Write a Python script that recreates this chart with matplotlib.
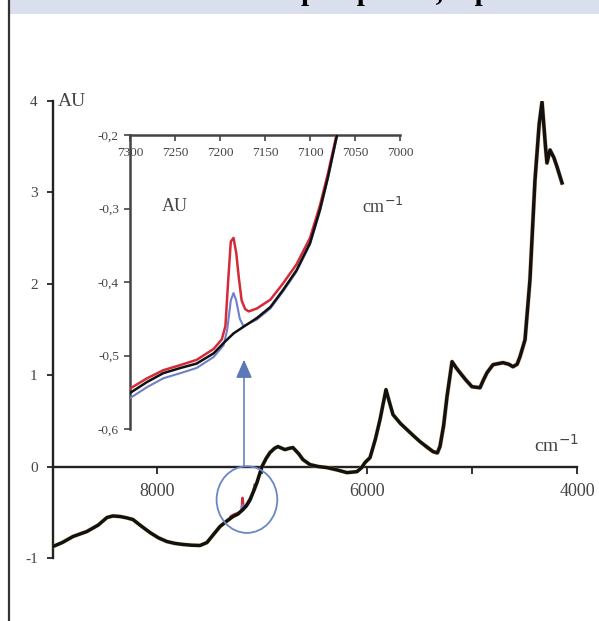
import matplotlib
matplotlib.use('Agg')
import matplotlib.pyplot as plt
from matplotlib.patches import Ellipse, Rectangle
from matplotlib.lines import Line2D

W, H = 599, 621

# ---- main spectrum (wavenumber cm-1, absorbance AU) ----
main_wn = [8990, 8900, 8800, 8667, 8560, 8476, 8420, 8352, 8290, 8229, 8150, 8067,
           7985, 7905, 7830, 7752, 7670, 7590, 7524, 7460, 7400, 7340, 7276, 7230,
           7181, 7150, 7114, 7080, 7048, 7000, 6960, 6924, 6880, 6848, 6781, 6740,
           6705, 6650, 6610, 6543, 6460, 6381, 6290, 6190, 6095, 6050, 6019, 5971,
           5920, 5876, 5819, 5790, 5752, 5680, 5619, 5550, 5495, 5430, 5371, 5330,
           5305, 5270, 5238, 5190, 5150, 5114, 5060, 5000, 4924, 4890, 4857, 4800,
           4705, 4650, 4610, 4570, 4543, 4495, 4448, 4400, 4360, 4333, 4300, 4286,
           4257, 4220, 4190, 4143]
main_au = [-0.874, -0.830, -0.765, -0.710, -0.640, -0.557, -0.540, -0.546, -0.560, -0.579,
           -0.650, -0.721, -0.780, -0.820, -0.840, -0.852, -0.860, -0.863, -0.831, -0.740,
           -0.656, -0.600, -0.546, -0.520, -0.470, -0.430, -0.361, -0.270, -0.175, 0.000,
           0.090, 0.153, 0.200, 0.219, 0.186, 0.200, 0.208, 0.140, 0.077, 0.022,
           0.000, -0.011, -0.035, -0.066, -0.055, -0.010, 0.044, 0.098, 0.300, 0.514,
           0.842, 0.720, 0.568, 0.470, 0.404, 0.330, 0.273, 0.215, 0.164, 0.150,
           0.219, 0.450, 0.765, 1.148, 1.080, 1.027, 0.950, 0.874, 0.863, 0.950,
           1.027, 1.115, 1.137, 1.120, 1.093, 1.120, 1.202, 1.388, 2.044, 3.137,
           3.750, 3.989, 3.500, 3.322, 3.464, 3.380, 3.279, 3.104]

# ---- inset spectra (7300-7000 cm-1) ----
inset_wn_black = [7300, 7281, 7263, 7244, 7226, 7207, 7196, 7185, 7174, 7159, 7144,
                  7130, 7115, 7100, 7089, 7080, 7070]
inset_black = [-0.551, -0.536, -0.524, -0.517, -0.511, -0.497, -0.483, -0.470, -0.461,
               -0.449, -0.434, -0.411, -0.384, -0.347, -0.302, -0.257, -0.200]

inset_wn_red = [7300, 7281, 7263, 7244, 7226, 7207, 7198, 7194, 7191, 7188, 7185, 7182,
                7179, 7176, 7172, 7168, 7159, 7144, 7130, 7115, 7100, 7089, 7080, 7070]
inset_red = [-0.545, -0.531, -0.520, -0.513, -0.506, -0.491, -0.478, -0.460, -0.400,
             -0.345, -0.340, -0.360, -0.395, -0.425, -0.437, -0.440, -0.436, -0.424,
             -0.402, -0.376, -0.340, -0.296, -0.252, -0.197]

inset_wn_blue = [7300, 7281, 7263, 7244, 7226, 7207, 7196, 7192, 7188, 7185, 7182,
                 7178, 7174, 7159, 7144, 7130, 7115, 7100, 7089, 7080, 7070]
inset_blue = [-0.558, -0.543, -0.531, -0.524, -0.517, -0.502, -0.486, -0.465, -0.425,
              -0.415, -0.425, -0.450, -0.460, -0.451, -0.436, -0.413, -0.386, -0.349,
              -0.304, -0.259, -0.202]

main_xticks = [8000, 7000, 6000, 5000, 4000]
main_xlabels = ['8000', '', '6000', '', '4000']
main_yticks = [-1, 0, 1, 2, 3, 4]
inset_xticks = [7300, 7250, 7200, 7150, 7100, 7050, 7000]
inset_yticks = [-0.6, -0.5, -0.4, -0.3, -0.2]

plt.rcParams['font.family'] = ['Liberation Serif', 'DejaVu Serif']

fig = plt.figure(figsize=(W / 100, H / 100), dpi=100)
fig.patch.set_facecolor('white')


def fx(px):
    return px / W


def fy(py):
    return 1 - py / H


# header band and left frame line
fig.add_artist(Rectangle((fx(10), fy(14)), 1 - fx(10), 14 / H, transform=fig.transFigure,
                         facecolor='#d9dfec', edgecolor='none', zorder=0))
fig.add_artist(Line2D([fx(8.5), fx(8.5)], [0, 1], transform=fig.transFigure,
                      color='#333333', lw=1.6))
fig.text(fx(368), fy(0), 'Sample spectra, top', ha='center', va='baseline',
         fontsize=21, fontweight='bold', color='black')

# ---- main axes ----
ax = fig.add_axes([fx(53), fy(558), (577 - 53) / W, (558 - 101) / H])
ax.patch.set_visible(False)
ax.set_xlim(8990, 4000)
ax.set_ylim(-1, 4)
ax.spines['top'].set_visible(False)
ax.spines['right'].set_visible(False)
ax.spines['bottom'].set_position(('data', 0))
for s in ('left', 'bottom'):
    ax.spines[s].set_linewidth(1.7)
    ax.spines[s].set_color('#222222')
ax.set_xticks(main_xticks)
ax.set_xticklabels(main_xlabels, fontsize=13, color='#444444')
ax.set_yticks(main_yticks)
ax.set_yticklabels([str(v) for v in main_yticks], fontsize=11, color='#444444')
ax.tick_params(axis='x', direction='out', length=5, width=1.4, pad=7, color='#333333')
ax.tick_params(axis='y', direction='out', length=4, width=1.4, pad=7, color='#333333')

halo_left = [(w, a) for w, a in zip(main_wn, main_au) if w >= 5400]
halo_right = [(w, a) for w, a in zip(main_wn, main_au) if w <= 5450]
ax.plot([p[0] for p in halo_left], [p[1] for p in halo_left], color='#e8c85a',
        lw=3.2, alpha=0.45, zorder=3, solid_joinstyle='round')
ax.plot([p[0] for p in halo_right], [p[1] for p in halo_right], color='#d8843a',
        lw=3.2, alpha=0.5, zorder=3, solid_joinstyle='round')
ax.plot(inset_wn_red, inset_red, color='#d42a3a', lw=1.6, zorder=4)
ax.plot(inset_wn_blue, inset_blue, color='#6f7fc8', lw=1.4, zorder=4)
ax.plot(main_wn, main_au, color='#111111', lw=2.5, zorder=5, solid_joinstyle='round')

ax.annotate('', xy=(7171, 1.17), xytext=(7171, 0.0),
            arrowprops=dict(arrowstyle='-|>,head_length=0.8,head_width=0.35',
                            color='#5b78b8', lw=1.1, shrinkA=0, shrinkB=0,
                            mutation_scale=14), zorder=2)
ax.add_patch(Ellipse((7143, -0.361), width=578, height=0.729, fill=False,
                     edgecolor='#6a86c4', lw=1.3, zorder=6))

fig.text(fx(58), fy(101), 'AU', ha='left', va='center', fontsize=14, color='#444444')
fig.text(fx(556), fy(445), 'cm$^{-1}$', ha='center', va='center', fontsize=14,
         color='#444444')

# ---- inset axes ----
ax2 = fig.add_axes([fx(130), fy(429), 270 / W, 294 / H])
ax2.patch.set_visible(False)
ax2.set_xlim(7300, 7000)
ax2.set_ylim(-0.6, -0.2)
ax2.spines['right'].set_visible(False)
ax2.spines['bottom'].set_visible(False)
for s in ('left', 'top'):
    ax2.spines[s].set_linewidth(1.8)
    ax2.spines[s].set_color('#444444')
ax2.xaxis.tick_top()
ax2.set_xticks(inset_xticks)
ax2.set_xticklabels([str(v) for v in inset_xticks], fontsize=9.5, color='#444444')
ax2.set_yticks(inset_yticks)
ax2.set_yticklabels([('%.1f' % v).replace('.', ',') for v in inset_yticks],
                    fontsize=9.5, color='#444444')
ax2.tick_params(axis='x', direction='in', length=4, width=1.2, pad=-17, color='#444444')
ax2.tick_params(axis='y', direction='out', length=4, width=1.2, pad=4, color='#444444')

ax2.plot(inset_wn_blue, inset_blue, color='#6f7fc8', lw=1.5, zorder=3)
ax2.plot(inset_wn_red, inset_red, color='#d42a3a', lw=1.8, zorder=4)
ax2.plot(inset_wn_black, inset_black, color='#111111', lw=1.8, zorder=5)

fig.text(fx(175), fy(207), 'AU', ha='center', va='center', fontsize=13, color='#444444')
fig.text(fx(383), fy(207), 'cm$^{-1}$', ha='center', va='center', fontsize=13,
         color='#444444')

fig.savefig('out.png', dpi=100)
